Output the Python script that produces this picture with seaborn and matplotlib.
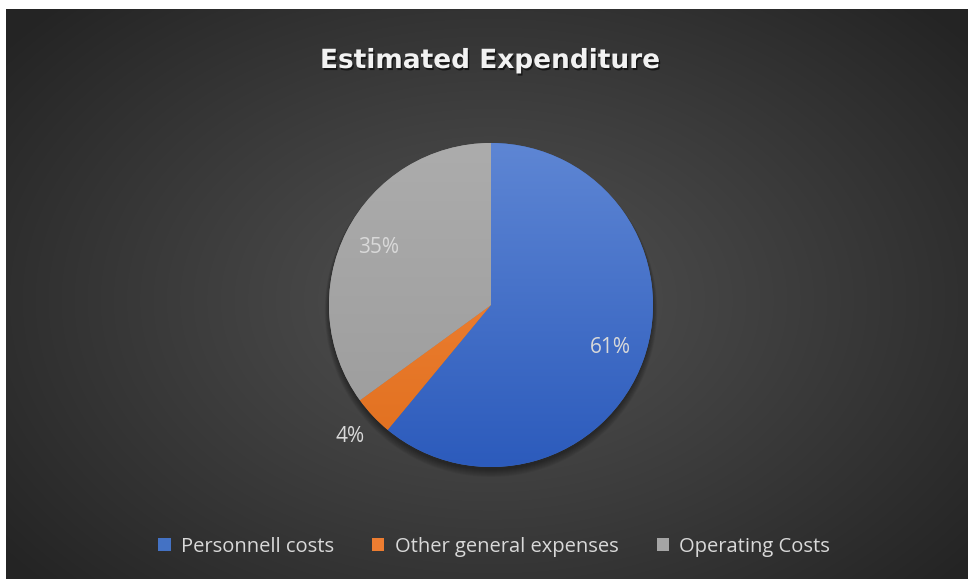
import numpy as np
import matplotlib
matplotlib.use("Agg")
import matplotlib.pyplot as plt
import seaborn as sns
from matplotlib.patches import Patch, Circle
from matplotlib import patheffects as pe
from matplotlib.colors import to_rgb

# Data
categories = ["Personnell costs", "Other general expenses", "Operating Costs"]
shares = [61, 4, 35]
chart_title = "Estimated Expenditure"

sns.set_theme(style="white")
plt.rcParams["font.family"] = ["Open Sans", "DejaVu Sans"]

W, H = 968, 579
fig = plt.figure(figsize=(W / 100, H / 100), dpi=100)
fig.patch.set_facecolor("white")

ax = fig.add_axes([0, 0, 1, 1])
ax.axis("off")

# Dark panel with a radial glow
x0, ytop = 6, 9
rows, cols = H - ytop, W - x0
yy, xx = np.mgrid[0:rows, 0:cols]
sx = xx + x0
sy = yy + ytop
r = np.sqrt(((sx - 490) / 620.0) ** 2 + ((sy - 300) / 420.0) ** 2)
t = np.clip(r, 0, 1) ** 1.1
c_in = np.array(to_rgb("#515151"))
c_out = np.array(to_rgb("#242424"))
bg = c_in[None, None, :] * (1 - t[..., None]) + c_out[None, None, :] * t[..., None]
ax.imshow(bg, extent=(x0, W, 0, H - ytop), origin="upper", zorder=0, interpolation="bilinear")

# Pie
cx, cy, R = 491, H - 305, 162
palette = sns.color_palette(["#4472c4", "#ed7d31", "#a5a5a5"])
grad_pairs = [("#5e86d4", "#2c5bbc"), ("#f5893e", "#e06f1e"), ("#acacac", "#9b9b9b")]

# soft shadow under the pie
for k in range(8):
    ax.add_patch(Circle((cx, cy - 3 - k * 0.4), R + k * 0.6, facecolor="black",
                        alpha=0.05, linewidth=0, zorder=1))

wedges, texts, autotexts = ax.pie(
    shares, colors=palette, startangle=90, counterclock=False,
    center=(cx, cy), radius=R, autopct="%1.0f%%", pctdistance=0.78,
    wedgeprops=dict(linewidth=0, zorder=2),
    textprops=dict(color="#d9d9d9", fontsize=15), frame=True,
)

# vertical shading inside each slice
for w, (top, bot) in zip(wedges, grad_pairs):
    ct, cb = np.array(to_rgb(top)), np.array(to_rgb(bot))
    s = np.linspace(0, 1, 256)[:, None, None]
    img = ct * (1 - s) + cb * s
    img = np.repeat(img, 2, axis=1)
    im = ax.imshow(img, extent=(cx - R, cx + R, cy - R, cy + R), origin="upper",
                   zorder=3, interpolation="bilinear")
    im.set_clip_path(w)

# small slices get their label outside the pie
for val, at in zip(shares, autotexts):
    at.set_zorder(5)
    if val < 10:
        px, py = at.get_position()
        f = 1.19 / 0.78
        at.set_position((cx + (px - cx) * f, cy + (py - cy) * f))

ax.set_xlim(0, W)
ax.set_ylim(0, H)
ax.set_aspect("equal")

# Title
ax.text(490, H - 61, chart_title, ha="center", va="center", fontsize=19,
        fontweight="bold", color="#f2f2f2", family=["DejaVu Sans"], zorder=6,
        path_effects=[pe.SimplePatchShadow(offset=(1, -1.5), shadow_rgbFace="black", alpha=0.6),
                      pe.Normal()])

# Legend
handles = [Patch(facecolor=c, linewidth=0) for c in palette]
fig.legend(handles, categories, loc="center", bbox_to_anchor=(494 / W, 1 - 547 / H),
           ncol=3, frameon=False, fontsize=14.5, labelcolor="#d9d9d9",
           handlelength=0.62, handleheight=0.62, handletextpad=0.5, columnspacing=1.9)

fig.savefig("out.png", dpi=100, facecolor=fig.get_facecolor())
